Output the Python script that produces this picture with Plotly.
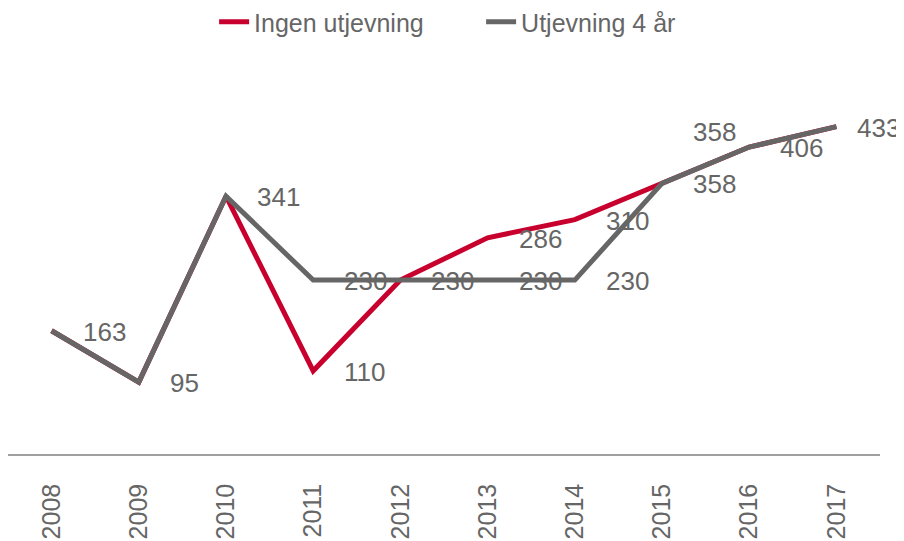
import plotly.graph_objects as go

years = ["2008", "2009", "2010", "2011", "2012", "2013", "2014", "2015", "2016", "2017"]
ingen = [163, 95, 341, 110, 230, 286, 310, 358, 406, 433]
utj4 = [163, 95, 341, 230, 230, 230, 230, 358, 406, 433]

# which data labels are shown for each series
ingen_label_years = ["2011", "2013", "2014", "2015"]
utj4_label_years = years

RED = "#C8002E"
GRAY = "#666666"
TXT = "#666666"
FONT = "Liberation Sans, Arial, sans-serif"

fig = go.Figure()
fig.add_trace(go.Scatter(x=years, y=ingen, mode="lines", name="Ingen utjevning",
                         line=dict(color=RED, width=5)))
fig.add_trace(go.Scatter(x=years, y=utj4, mode="lines", name="Utjevning 4 år",
                         line=dict(color=GRAY, width=5)))

annotations = []
def add_labels(vals, label_years, yshifts=None, xshifts=None):
    yshifts = yshifts or {}
    xshifts = xshifts or {}
    for i, (yr, v) in enumerate(zip(years, vals)):
        if yr in label_years:
            annotations.append(dict(
                x=i, y=v, xref="x", yref="y", text=str(v), showarrow=False,
                xanchor="left", yanchor="middle",
                xshift=xshifts.get(yr, 29), yshift=yshifts.get(yr, -1),
                font=dict(family=FONT, size=26, color=TXT)))

add_labels(ingen, ingen_label_years, yshifts={"2015": 51})
add_labels(utj4, utj4_label_years, xshifts={"2017": 19})

fig.update_layout(
    width=904, height=541,
    margin=dict(l=0, r=32, t=68, b=95),
    paper_bgcolor="white", plot_bgcolor="white",
    font=dict(family=FONT, size=25, color=TXT),
    showlegend=True,
    legend=dict(orientation="h", xref="container", yref="container",
                x=0.228, xanchor="left", y=1 - 14 / 541, yanchor="middle",
                font=dict(family=FONT, size=25, color=TXT),
                entrywidth=222, itemwidth=30, tracegroupgap=0),
    annotations=annotations,
    xaxis=dict(type="category", range=[-0.5, 9.5], showgrid=False, showline=True,
               linecolor="#A0A0A0", linewidth=1.5, ticks="", tickangle=-90,
               ticklabelstandoff=18, automargin=False,
               tickfont=dict(family=FONT, size=25, color=TXT), zeroline=False),
    yaxis=dict(range=[0, 500], visible=False, showgrid=False, zeroline=False,
               automargin=False),
)

fig.write_html("out.html")
